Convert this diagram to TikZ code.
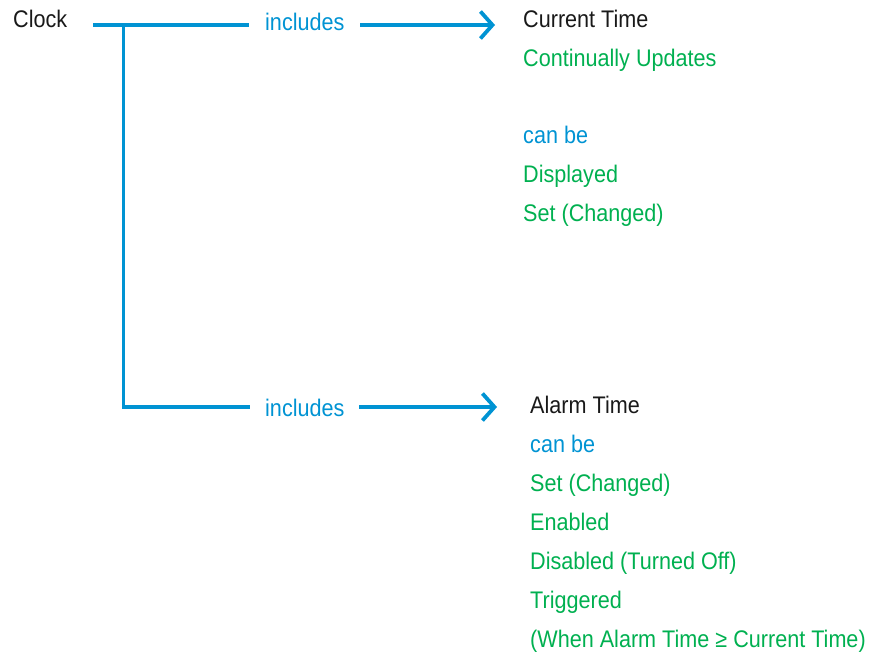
\documentclass[tikz,border=0pt]{standalone}
\usepackage{fontspec}
\setmainfont[FakeStretch=0.9]{Liberation Sans}
\usetikzlibrary{arrows.meta}
\definecolor{cblue}{HTML}{0093D3}
\definecolor{cgreen}{HTML}{00B050}
\begin{document}
\begin{tikzpicture}[x=1pt,y=-1pt,
  txt/.style={anchor=base west,inner sep=0pt,font=\fontsize{24}{28}\selectfont},
  dark/.style={txt,text=black!90},
  bl/.style={txt,text=cblue},
  gr/.style={txt,text=cgreen},
  conn/.style={draw=cblue,line width=3.8pt},
  arr/.style={conn,-{Straight Barb[length=12pt,width=27pt]}}]
\useasboundingbox (0,0) rectangle (875,651);
% texts
\node[dark] (clock) at (13,27) {Clock};
\node[bl] (inc1) at (265,30) {includes};
\node[bl] (inc2) at (265,416) {includes};
\node[dark] (cur) at (523,27) {Current Time};
\node[gr] (cu) at (523,66) {Continually Updates};
\node[bl] (cb1) at (523,143) {can be};
\node[gr] (disp) at (523,182) {Displayed};
\node[gr] (set1) at (523,221) {Set (Changed)};
\node[dark] (alarm) at (530,413) {Alarm Time};
\node[bl] (cb2) at (530,452) {can be};
\node[gr] (set2) at (530,491) {Set (Changed)};
\node[gr] (en) at (530,530) {Enabled};
\node[gr] (dis) at (530,569) {Disabled (Turned Off)};
\node[gr] (trig) at (530,608) {Triggered};
\node[gr] (when) at (530,647) {(When Alarm Time ≥ Current Time)};
% connector points
\coordinate (s1) at (93,25);
\coordinate (e1) at (249,25);
\coordinate (j1) at (123.5,25);
\coordinate (j2) at (123.5,407);
\coordinate (e2) at (250,407);
\coordinate (a1) at (360,25);
\coordinate (t1) at (495,25);
\coordinate (a2) at (359,407);
\coordinate (t2) at (497,407);
% connectors
\draw[conn] (s1) -- (e1);
\draw[conn] (j1) -- (j2) -- (e2);
\draw[arr] (a1) -- (t1);
\draw[arr] (a2) -- (t2);
\end{tikzpicture}
\end{document}
